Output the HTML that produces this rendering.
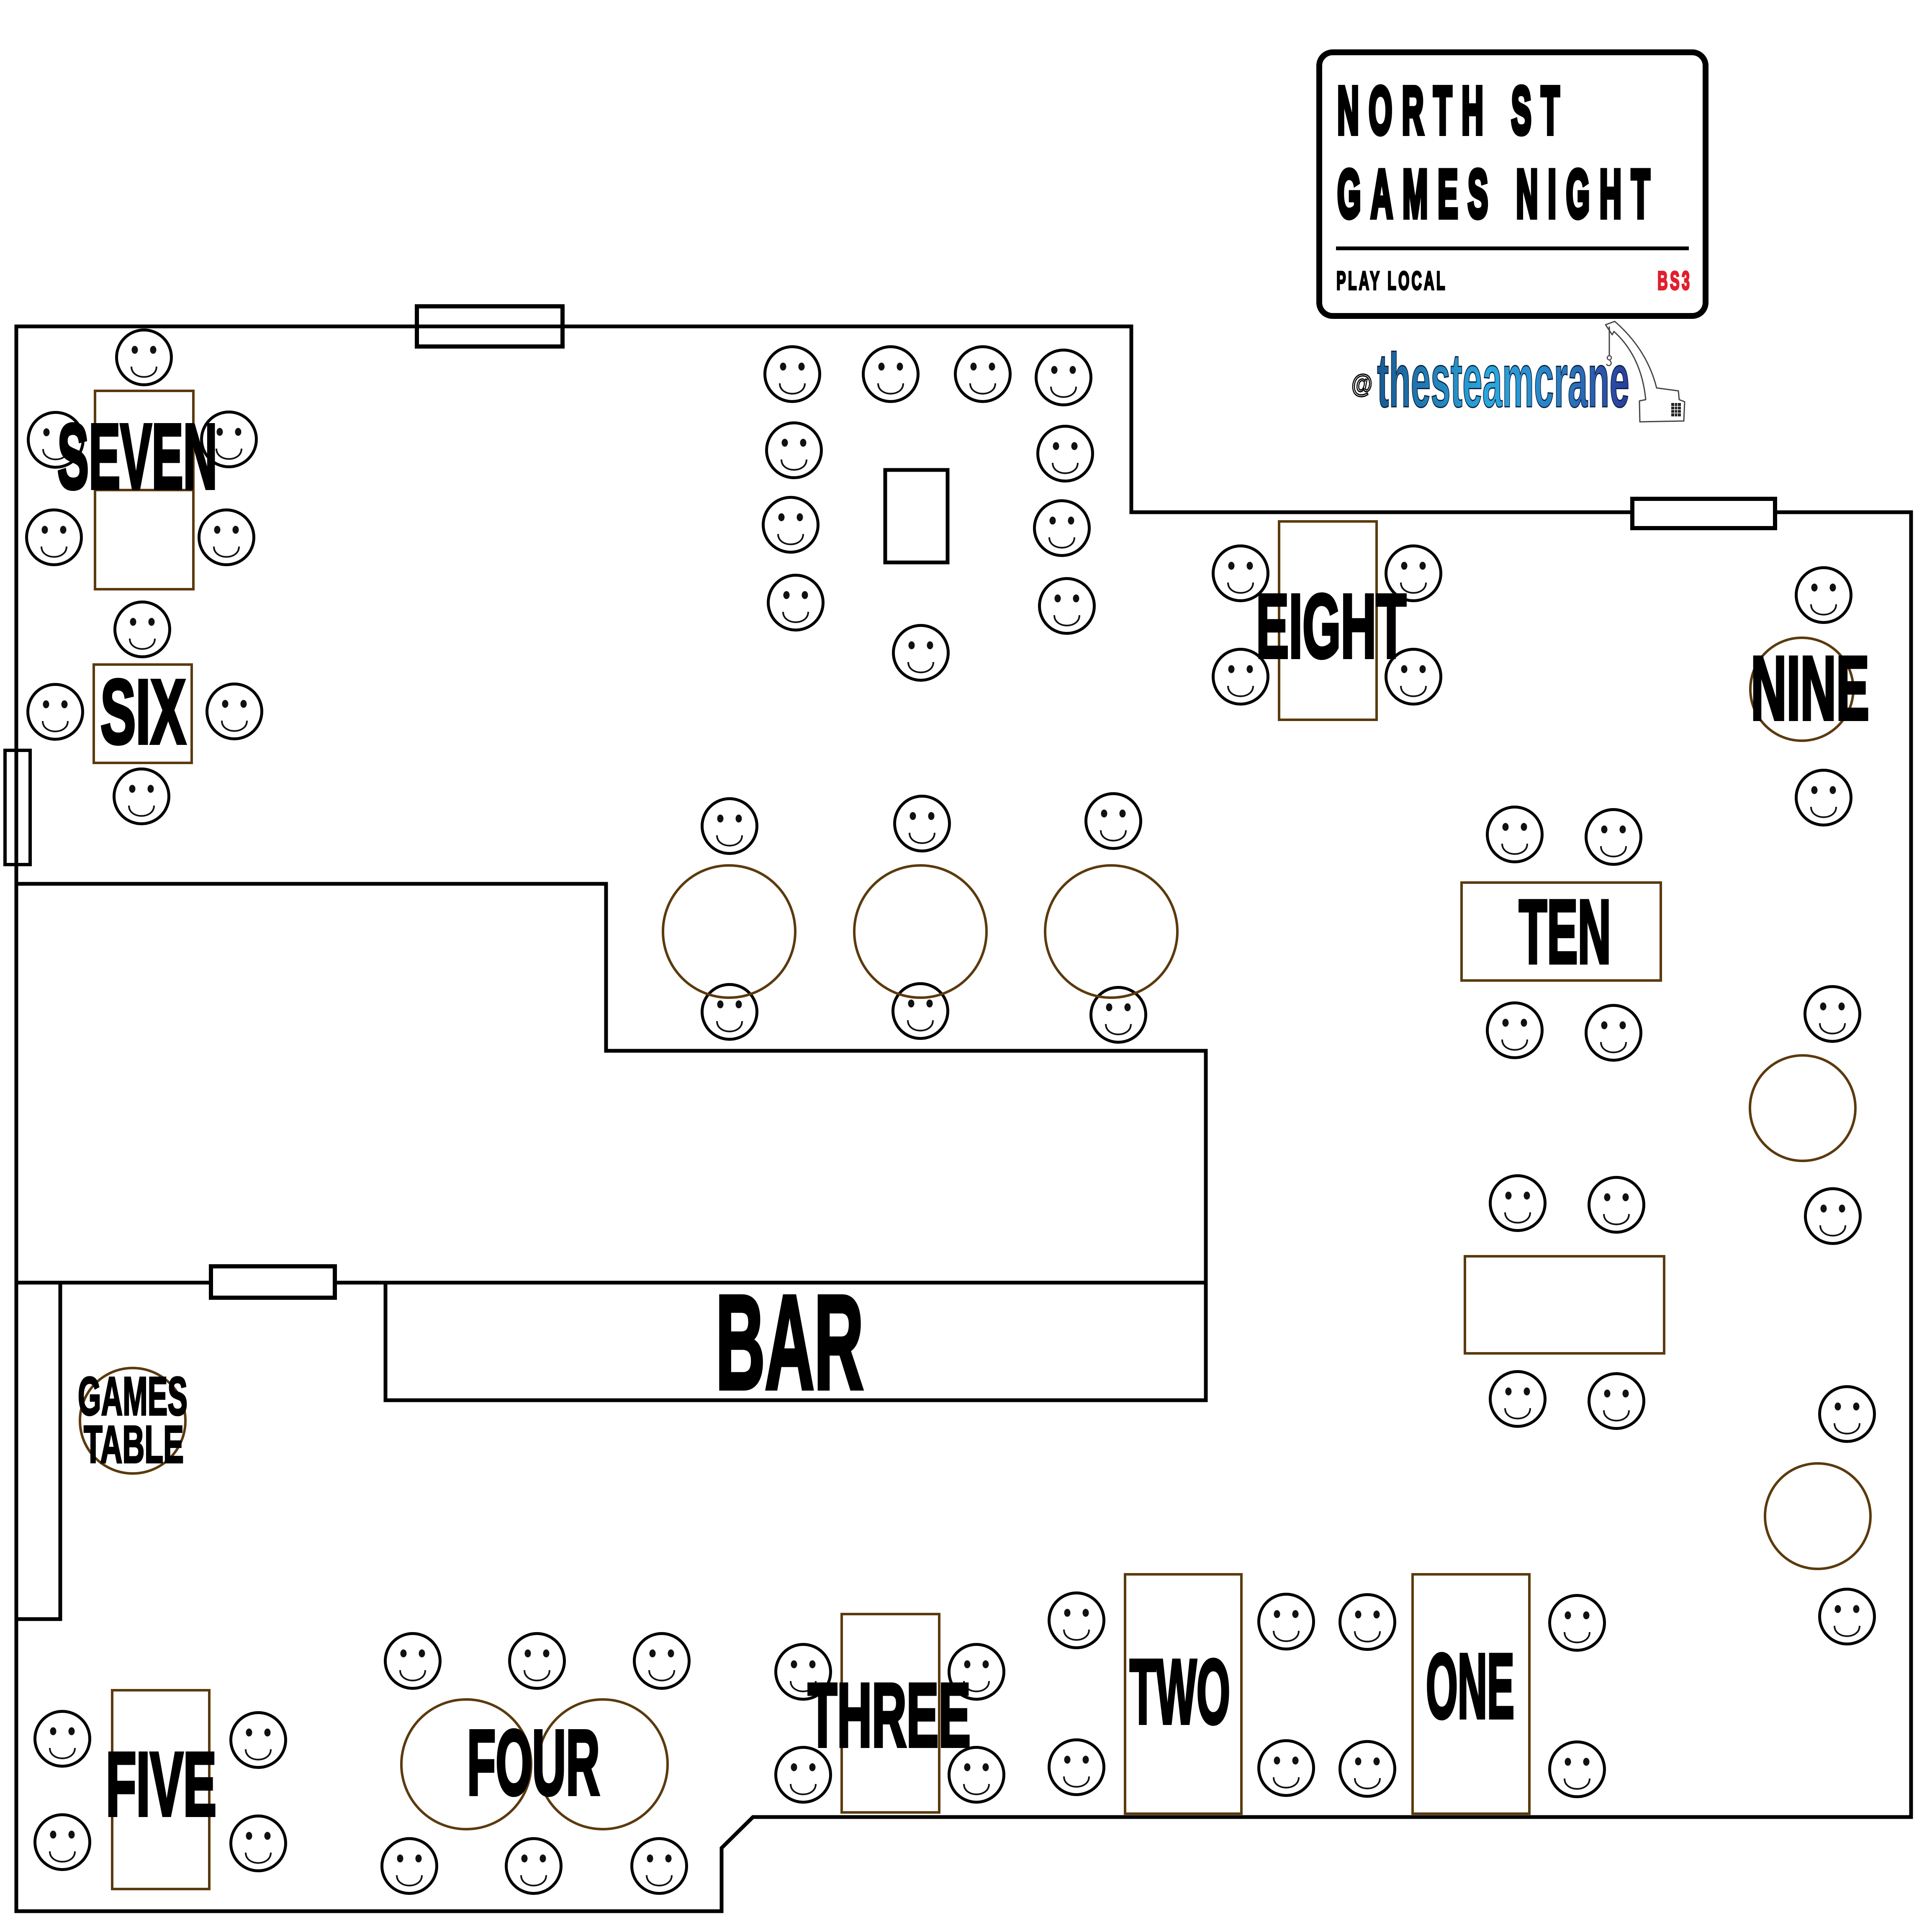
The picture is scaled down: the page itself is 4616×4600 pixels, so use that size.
<!DOCTYPE html>
<html>
<head>
<meta charset="utf-8">
<style>
html,body{margin:0;padding:0;background:#fff;}
svg{display:block;}
.lbl{font-family:"Liberation Sans",Arial,sans-serif;font-weight:bold;fill:#000;stroke:#000;stroke-width:8;stroke-linejoin:miter;}
.sm{font-family:"Liberation Sans",Arial,sans-serif;font-weight:bold;fill:#000;stroke:#000;stroke-width:4;}
.sign{font-family:"Liberation Sans",Arial,sans-serif;font-weight:bold;fill:#000;stroke:#000;stroke-width:12;}
</style>
</head>
<body>
<svg width="4616" height="4600" viewBox="0 0 4616 4600" xmlns="http://www.w3.org/2000/svg">
<defs>
  <g id="s">
    <circle r="65.5" fill="none" stroke="#000" stroke-width="7"/>
    <ellipse cx="-22" cy="-18" rx="7.5" ry="9.5" fill="#111"/>
    <ellipse cx="22" cy="-18" rx="7.5" ry="9.5" fill="#111"/>
    <path d="M-30 22 C-30 55 30 55 30 22" fill="none" stroke="#111" stroke-width="4"/>
  </g>
  <linearGradient id="blu" x1="0" y1="0" x2="1" y2="0">
    <stop offset="0" stop-color="#1b5a93"/>
    <stop offset="0.45" stop-color="#2aa8df"/>
    <stop offset="0.75" stop-color="#2a78c0"/>
    <stop offset="1" stop-color="#2b3b9c"/>
  </linearGradient>
</defs>
<rect x="0" y="0" width="4616" height="4600" fill="#fff"/>

<path d="M39 780 L2703 780 L2703 1224 L4566 1224 L4566 4342 L1799 4342 L1724 4416 L1724 4567 L39 4567 Z" fill="none" stroke="#000" stroke-width="9" stroke-linejoin="miter"/>
<path d="M39 2112 L1448 2112 L1448 2511 L2881 2511 L2881 3065" fill="none" stroke="#000" stroke-width="9"/>
<path d="M39 3065 L2881 3065" fill="none" stroke="#000" stroke-width="9"/>
<rect x="921" y="3065" width="1960" height="281" fill="none" stroke="#000" stroke-width="9"/>
<path d="M144 3065 L144 3869 L39 3869" fill="none" stroke="#000" stroke-width="9"/>

<rect x="996" y="732" width="348" height="96" fill="none" stroke="#000" stroke-width="10"/>
<rect x="3900" y="1192" width="341" height="70" fill="#fff" stroke="#000" stroke-width="10"/>
<rect x="504" y="3026" width="296" height="75" fill="#fff" stroke="#000" stroke-width="10"/>
<rect x="12" y="1793" width="60" height="273" fill="none" stroke="#000" stroke-width="8"/>

<rect x="2115" y="1123" width="149" height="221" fill="none" stroke="#000" stroke-width="9"/>

<g>
<use href="#s" x="344" y="854"/>
<use href="#s" x="133" y="1051"/>
<use href="#s" x="547" y="1050"/>
<use href="#s" x="129" y="1284"/>
<use href="#s" x="541" y="1284"/>
<use href="#s" x="340" y="1504"/>
<use href="#s" x="132" y="1701"/>
<use href="#s" x="560" y="1700"/>
<use href="#s" x="338" y="1903"/>
<use href="#s" x="1893" y="894"/>
<use href="#s" x="2128" y="894"/>
<use href="#s" x="2348" y="894"/>
<use href="#s" x="2541" y="902"/>
<use href="#s" x="1897" y="1076"/>
<use href="#s" x="2545" y="1084"/>
<use href="#s" x="1889" y="1254"/>
<use href="#s" x="2537" y="1262"/>
<use href="#s" x="1901" y="1440"/>
<use href="#s" x="2549" y="1448"/>
<use href="#s" x="2200" y="1560"/>
<use href="#s" x="2964" y="1370"/>
<use href="#s" x="3377" y="1370"/>
<use href="#s" x="2964" y="1617"/>
<use href="#s" x="3377" y="1617"/>
<use href="#s" x="4357" y="1422"/>
<use href="#s" x="4357" y="1906"/>
<use href="#s" x="3619" y="1994"/>
<use href="#s" x="3855" y="2000"/>
<use href="#s" x="3619" y="2462"/>
<use href="#s" x="3855" y="2468"/>
<use href="#s" x="4378" y="2423"/>
<use href="#s" x="4379" y="2906"/>
<use href="#s" x="3626" y="2875"/>
<use href="#s" x="3862" y="2879"/>
<use href="#s" x="3626" y="3343"/>
<use href="#s" x="3862" y="3348"/>
<use href="#s" x="4413" y="3379"/>
<use href="#s" x="4413" y="3863"/>
<use href="#s" x="1743" y="1974"/>
<use href="#s" x="2203" y="1968"/>
<use href="#s" x="2660" y="1962"/>
<use href="#s" x="1743" y="2418"/>
<use href="#s" x="2199" y="2416"/>
<use href="#s" x="2672" y="2425"/>
<use href="#s" x="149" y="4155"/>
<use href="#s" x="149" y="4402"/>
<use href="#s" x="617" y="4158"/>
<use href="#s" x="617" y="4405"/>
<use href="#s" x="986" y="3969"/>
<use href="#s" x="1283" y="3969"/>
<use href="#s" x="1581" y="3969"/>
<use href="#s" x="978" y="4459"/>
<use href="#s" x="1275" y="4459"/>
<use href="#s" x="1575" y="4459"/>
<use href="#s" x="1919" y="3995"/>
<use href="#s" x="1919" y="4241"/>
<use href="#s" x="2333" y="3995"/>
<use href="#s" x="2333" y="4241"/>
<use href="#s" x="2572" y="3872"/>
<use href="#s" x="2572" y="4223"/>
<use href="#s" x="3073" y="3875"/>
<use href="#s" x="3073" y="4225"/>
<use href="#s" x="3267" y="3876"/>
<use href="#s" x="3267" y="4227"/>
<use href="#s" x="3768" y="3878"/>
<use href="#s" x="3768" y="4228"/>
</g>

<g fill="none" stroke="#5b3a0e" stroke-width="6">
<rect x="227" y="934" width="235" height="474"/>
<line x1="227" y1="1171" x2="462" y2="1171"/>
<rect x="224" y="1588" width="234" height="235"/>
<rect x="3056" y="1246" width="233" height="474"/>
<rect x="3492" y="2109" width="476" height="234"/>
<rect x="3500" y="3002" width="476" height="232"/>
<rect x="268" y="4039" width="232" height="475"/>
<rect x="2011" y="3857" width="233" height="474"/>
<rect x="2688" y="3762" width="278" height="572"/>
<rect x="3375" y="3762" width="279" height="572"/>
<circle cx="4305" cy="1647" r="123"/>
<circle cx="4307" cy="2648" r="126"/>
<circle cx="4343" cy="3623" r="126"/>
<circle cx="1742" cy="2226" r="158"/>
<circle cx="2199" cy="2226" r="158"/>
<circle cx="2655" cy="2226" r="158"/>
<circle cx="1114" cy="4216" r="155"/>
<circle cx="1440" cy="4216" r="155"/>
<circle cx="317" cy="3395" r="126"/>
</g>

<text class="lbl" x="137" y="1167" font-size="221" textLength="382" lengthAdjust="spacingAndGlyphs">SEVEN</text>
<text class="lbl" x="240" y="1776" font-size="218" textLength="204" lengthAdjust="spacingAndGlyphs">SIX</text>
<text class="lbl" x="3001" y="1571" font-size="217" textLength="359" lengthAdjust="spacingAndGlyphs">EIGHT</text>
<text class="lbl" x="4183" y="1719" font-size="216" textLength="283" lengthAdjust="spacingAndGlyphs">NINE</text>
<text class="lbl" x="3629" y="2301" font-size="216" textLength="220" lengthAdjust="spacingAndGlyphs">TEN</text>
<text class="lbl" x="1710" y="3318" font-size="320" textLength="353" lengthAdjust="spacingAndGlyphs" style="stroke-width:10">BAR</text>
<text class="sm" x="186" y="3381" font-size="130" textLength="262" lengthAdjust="spacingAndGlyphs">GAMES</text>
<text class="sm" x="200" y="3495" font-size="126" textLength="239" lengthAdjust="spacingAndGlyphs">TABLE</text>
<text class="lbl" x="253" y="4338" font-size="216" textLength="264" lengthAdjust="spacingAndGlyphs">FIVE</text>
<text class="lbl" x="1116" y="4288" font-size="221" textLength="317" lengthAdjust="spacingAndGlyphs">FOUR</text>
<text class="lbl" x="1930" y="4173" font-size="216" textLength="389" lengthAdjust="spacingAndGlyphs">THREE</text>
<text class="lbl" x="2699" y="4118" font-size="219" textLength="240" lengthAdjust="spacingAndGlyphs">TWO</text>
<text class="lbl" x="3407" y="4105" font-size="220" textLength="211" lengthAdjust="spacingAndGlyphs">ONE</text>

<rect x="3152" y="125" width="923" height="630" rx="32" ry="32" fill="#fff" stroke="#000" stroke-width="14"/>
<text class="sign" transform="translate(3195,319) scale(0.45,1)" x="0" y="0" font-size="160" textLength="1180" lengthAdjust="spacing">NORTH ST</text>
<text class="sign" transform="translate(3195,519) scale(0.45,1)" x="0" y="0" font-size="162" textLength="1660" lengthAdjust="spacing">GAMES NIGHT</text>
<rect x="3192" y="589" width="843" height="9" fill="#000"/>
<text transform="translate(3193,692) scale(0.55,1)" x="0" y="0" font-family="Liberation Sans, Arial, sans-serif" font-weight="bold" font-size="62" textLength="472" lengthAdjust="spacing" fill="#000" stroke="#000" stroke-width="4">PLAY LOCAL</text>
<text transform="translate(3960,692) scale(0.55,1)" x="0" y="0" font-family="Liberation Sans, Arial, sans-serif" font-weight="bold" font-size="62" textLength="140" lengthAdjust="spacing" fill="#e31e2d" stroke="#e31e2d" stroke-width="4">BS3</text>

<text x="3229" y="938" font-family="Liberation Sans, Arial, sans-serif" font-weight="bold" font-size="62" textLength="50" lengthAdjust="spacingAndGlyphs" fill="#fff" stroke="#000" stroke-width="3">@</text>
<text x="3290" y="972" font-family="Liberation Sans, Arial, sans-serif" font-weight="bold" font-size="183" textLength="603" lengthAdjust="spacingAndGlyphs" fill="url(#blu)" stroke="#0b2340" stroke-width="3">thesteamcrane</text>
<path d="M3836 776 L3858 768 Q3935 835 3958 927 L4010 934 L4012 955 L4025 960 L4023 1006 L3918 1008 L3917 958 L3932 955 Q3922 852 3856 792 L3852 800 Z" fill="#fff" stroke="#444" stroke-width="3" stroke-linejoin="round"/>
<line x1="3845" y1="780" x2="3845" y2="850" stroke="#444" stroke-width="3"/>
<circle cx="3845" cy="855" r="5" fill="none" stroke="#444" stroke-width="2.5"/>
<path d="M3845 860 Q3852 866 3848 872 Q3842 876 3838 870" fill="none" stroke="#444" stroke-width="2.5"/>
<rect x="3993" y="963" width="23" height="32" fill="#222"/>
<g stroke="#fff" stroke-width="1.5">
<line x1="4001" y1="963" x2="4001" y2="995"/>
<line x1="4008" y1="963" x2="4008" y2="995"/>
<line x1="3993" y1="971" x2="4016" y2="971"/>
<line x1="3993" y1="979" x2="4016" y2="979"/>
<line x1="3993" y1="987" x2="4016" y2="987"/>
</g>
</svg>
</body>
</html>
